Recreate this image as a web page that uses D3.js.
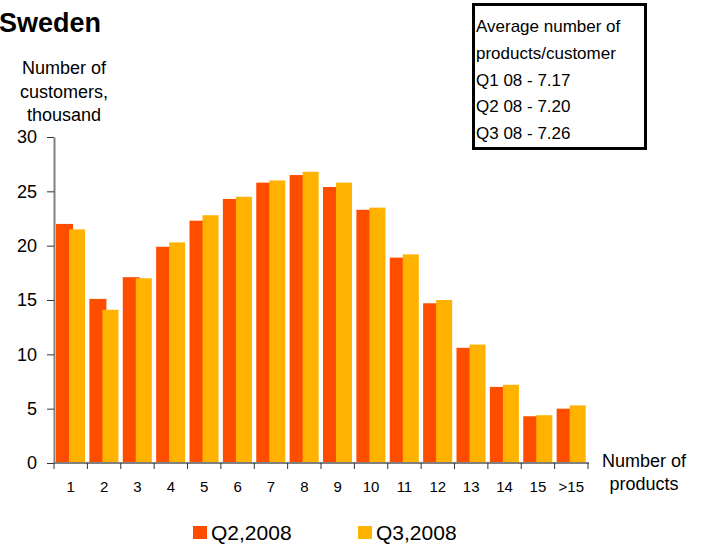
<!DOCTYPE html>
<html>
<head>
<meta charset="utf-8">
<script src="https://cdn.jsdelivr.net/npm/d3@7"></script>
<style>
  html, body { margin: 0; padding: 0; background: #fff; }
  svg { display: block; font-family: "Liberation Sans", Arial, sans-serif; }
</style>
</head>
<body>
<svg id="chart" width="705" height="547"></svg>
<script>
// Customers by number of products held, thousand
const categories = ["1","2","3","4","5","6","7","8","9","10","11","12","13","14","15",">15"];
const q2Values = [22.0, 15.1, 17.1, 19.9, 22.3, 24.3, 25.8, 26.5, 25.4, 23.3, 18.9, 14.7, 10.6, 7.0, 4.3, 5.0];
const q3Values = [21.5, 14.1, 17.0, 20.3, 22.8, 24.5, 26.0, 26.8, 25.8, 23.5, 19.2, 15.0, 10.9, 7.2, 4.4, 5.3];
const seriesNames = ["Q2,2008", "Q3,2008"];
const yTicks = [0, 5, 10, 15, 20, 25, 30];
const averageLines = ["Average number of", "products/customer", "Q1 08 - 7.17", "Q2 08 - 7.20", "Q3 08 - 7.26"];

const colors = { "Q2,2008": "#ff4d00", "Q3,2008": "#ffb300" };

const svg = d3.select("#chart");

const x = d3.scaleBand().domain(categories).range([54, 588]).padding(0);
const y = d3.scaleLinear().domain([0, 30]).range([463, 137]);
const bw = x.bandwidth();

// Title
svg.append("text")
  .attr("x", -1).attr("y", 32)
  .attr("font-size", 27).attr("font-weight", "bold").attr("fill", "#000")
  .text("Sweden");

// Y-axis title
const yTitle = svg.append("text")
  .attr("text-anchor", "middle").attr("font-size", 18).attr("fill", "#000");
["Number of", "customers,", "thousand"].forEach((t, i) => {
  yTitle.append("tspan").attr("x", 64).attr("y", 74 + i * 23.5).text(t);
});

// Bars: Q2 drawn first, Q3 overlapping on its right
const g = svg.append("g");
g.selectAll("rect.q2").data(categories).join("rect")
  .attr("class", "q2")
  .attr("x", d => x(d) + bw * 0.06)
  .attr("width", bw * 0.51)
  .attr("y", (d, i) => y(q2Values[i]))
  .attr("height", (d, i) => y(0) - y(q2Values[i]))
  .attr("fill", colors["Q2,2008"]);
g.selectAll("rect.q3").data(categories).join("rect")
  .attr("class", "q3")
  .attr("x", d => x(d) + bw * 0.45)
  .attr("width", bw * 0.48)
  .attr("y", (d, i) => y(q3Values[i]))
  .attr("height", (d, i) => y(0) - y(q3Values[i]))
  .attr("fill", colors["Q3,2008"]);

// Y axis
const yAxis = svg.append("g").attr("transform", "translate(54,0)")
  .call(d3.axisLeft(y).tickValues(yTicks).tickSize(7).tickPadding(10).tickSizeOuter(0));
yAxis.select(".domain").attr("stroke", "#808080").attr("stroke-width", 2);
yAxis.selectAll(".tick line").attr("stroke", "#333");
yAxis.selectAll(".tick text").attr("font-size", 18).attr("fill", "#000")
  .attr("font-family", "Liberation Sans, Arial, sans-serif");

// X axis: ticks sit on category boundaries
const boundaries = categories.map(c => x(c)).concat([x.range()[1]]);
const xAxisG = svg.append("g");
xAxisG.append("line")
  .attr("x1", 53).attr("x2", 589).attr("y1", y(0)).attr("y2", y(0))
  .attr("stroke", "#808080").attr("stroke-width", 2);
xAxisG.selectAll("line.tick").data(boundaries).join("line")
  .attr("class", "tick")
  .attr("x1", d => d).attr("x2", d => d)
  .attr("y1", y(0)).attr("y2", y(0) + 6)
  .attr("stroke", "#333");
xAxisG.selectAll("text").data(categories).join("text")
  .attr("x", d => x(d) + bw / 2).attr("y", 492)
  .attr("text-anchor", "middle").attr("font-size", 15).attr("fill", "#000")
  .text(d => d);

// X-axis title
const xTitle = svg.append("text").attr("text-anchor", "middle").attr("font-size", 18).attr("fill", "#000");
["Number of", "products"].forEach((t, i) => {
  xTitle.append("tspan").attr("x", 644).attr("y", 467 + i * 23).text(t);
});

// Average products per customer box
svg.append("rect")
  .attr("x", 473.5).attr("y", 4.5).attr("width", 172).attr("height", 144)
  .attr("fill", "#fff").attr("stroke", "#000").attr("stroke-width", 3);
svg.append("g").selectAll("text").data(averageLines).join("text")
  .attr("x", 476).attr("y", (d, i) => 32 + i * 26.8)
  .attr("font-size", 17).attr("fill", "#000")
  .text(d => d);

// Legend
const legendX = [193, 358];
const legend = svg.append("g").selectAll("g").data(seriesNames).join("g")
  .attr("transform", (d, i) => `translate(${legendX[i]},526)`);
legend.append("rect").attr("width", 14).attr("height", 13).attr("fill", d => colors[d]);
legend.append("text").attr("x", 18).attr("y", 14).attr("font-size", 21).attr("fill", "#000").text(d => d);
</script>
</body>
</html>
